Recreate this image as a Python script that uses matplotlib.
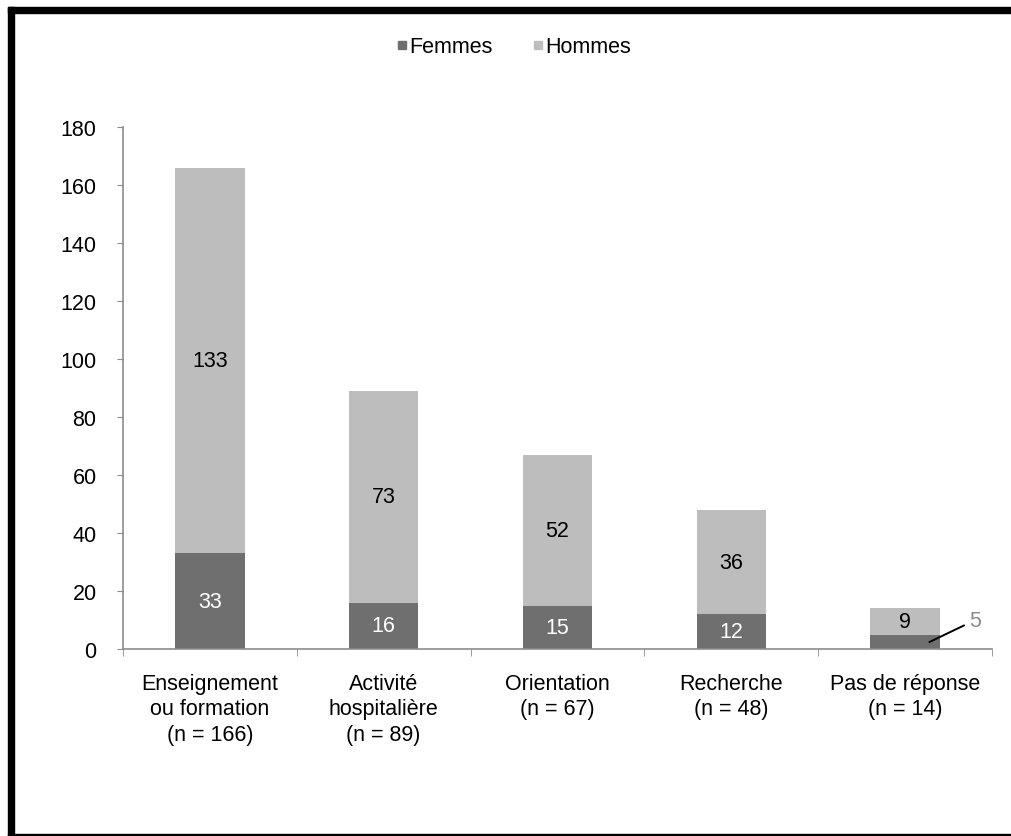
import matplotlib.pyplot as plt
from matplotlib.lines import Line2D
from matplotlib.patches import Rectangle
import numpy as np

plt.rcParams['font.family'] = ['Liberation Sans', 'DejaVu Sans']

categories = ['Enseignement\nou formation\n(n = 166)',
              'Activité\nhospitalière\n(n = 89)',
              'Orientation\n(n = 67)',
              'Recherche\n(n = 48)',
              'Pas de réponse\n(n = 14)']
femmes = [33, 16, 15, 12, 5]
hommes = [133, 73, 52, 36, 9]

dark = '#6f6f6f'
light = '#bdbdbd'
axis_col = '#8c8c8c'
fs = 15.5

fig = plt.figure(figsize=(10.12, 8.37), dpi=100)
ax = fig.add_axes([0.1215, 0.2234, 0.8587, 0.6237])

x = np.arange(len(categories))
w = 0.4
ax.bar(x, femmes, w, color=dark, label='Femmes')
ax.bar(x, hommes, w, bottom=femmes, color=light, label='Hommes')

# value labels in the middle of each segment (small one gets a leader line)
for i in range(len(categories)):
    f = femmes[i]
    h = hommes[i]
    if f >= 10:
        ax.text(x[i], f / 2, str(f), ha='center', va='center', color='white', fontsize=fs)
    else:
        ax.annotate(str(f), xy=(x[i] + 0.14, f / 2 - 0.1), xytext=(x[i] + 0.37, f + 5),
                    ha='left', va='center', color=axis_col, fontsize=fs,
                    arrowprops=dict(arrowstyle='-', color='black', lw=1.4,
                                    shrinkA=2, shrinkB=0))
    ax.text(x[i], f + h / 2, str(h), ha='center', va='center', color='black', fontsize=fs)

ax.set_xlim(-0.5, len(categories) - 0.5)
ax.set_ylim(0, 180)
ax.set_yticks(range(0, 181, 20))

ax.set_xticks(x)
ax.set_xticklabels(categories, fontsize=fs, linespacing=1.3)
ax.set_xticks(np.arange(-0.5, len(categories)), minor=True)
ax.tick_params(axis='x', which='major', length=0, pad=17)
ax.tick_params(axis='x', which='minor', length=5, color=axis_col, direction='out')
ax.tick_params(axis='y', length=4, color=axis_col, pad=15, labelsize=fs)

for side in ['top', 'right']:
    ax.spines[side].set_visible(False)
for side in ['left', 'bottom']:
    ax.spines[side].set_color(axis_col)
    ax.spines[side].set_linewidth(1.2)

handles = [Line2D([], [], marker='s', ls='', color=dark, markersize=6),
           Line2D([], [], marker='s', ls='', color=light, markersize=6)]
fig.legend(handles, ['Femmes', 'Hommes'], loc='center', bbox_to_anchor=(0.508, 0.943),
           ncol=2, frameon=False, fontsize=fs, handlelength=0.45, handletextpad=0.1,
           columnspacing=1.9)

# black frame around the figure (left, top, bottom)
W, H = 1012, 837
fig.patches.append(Rectangle((8 / W, 0), 6 / W, 1 - 8 / H, transform=fig.transFigure,
                             color='black', zorder=10))
fig.patches.append(Rectangle((8 / W, 1 - 14 / H), 1, 6 / H, transform=fig.transFigure,
                             color='black', zorder=10))
fig.patches.append(Rectangle((8 / W, 0), 1, 2.5 / H, transform=fig.transFigure,
                             color='black', zorder=10))

fig.savefig('out.png', dpi=100)
